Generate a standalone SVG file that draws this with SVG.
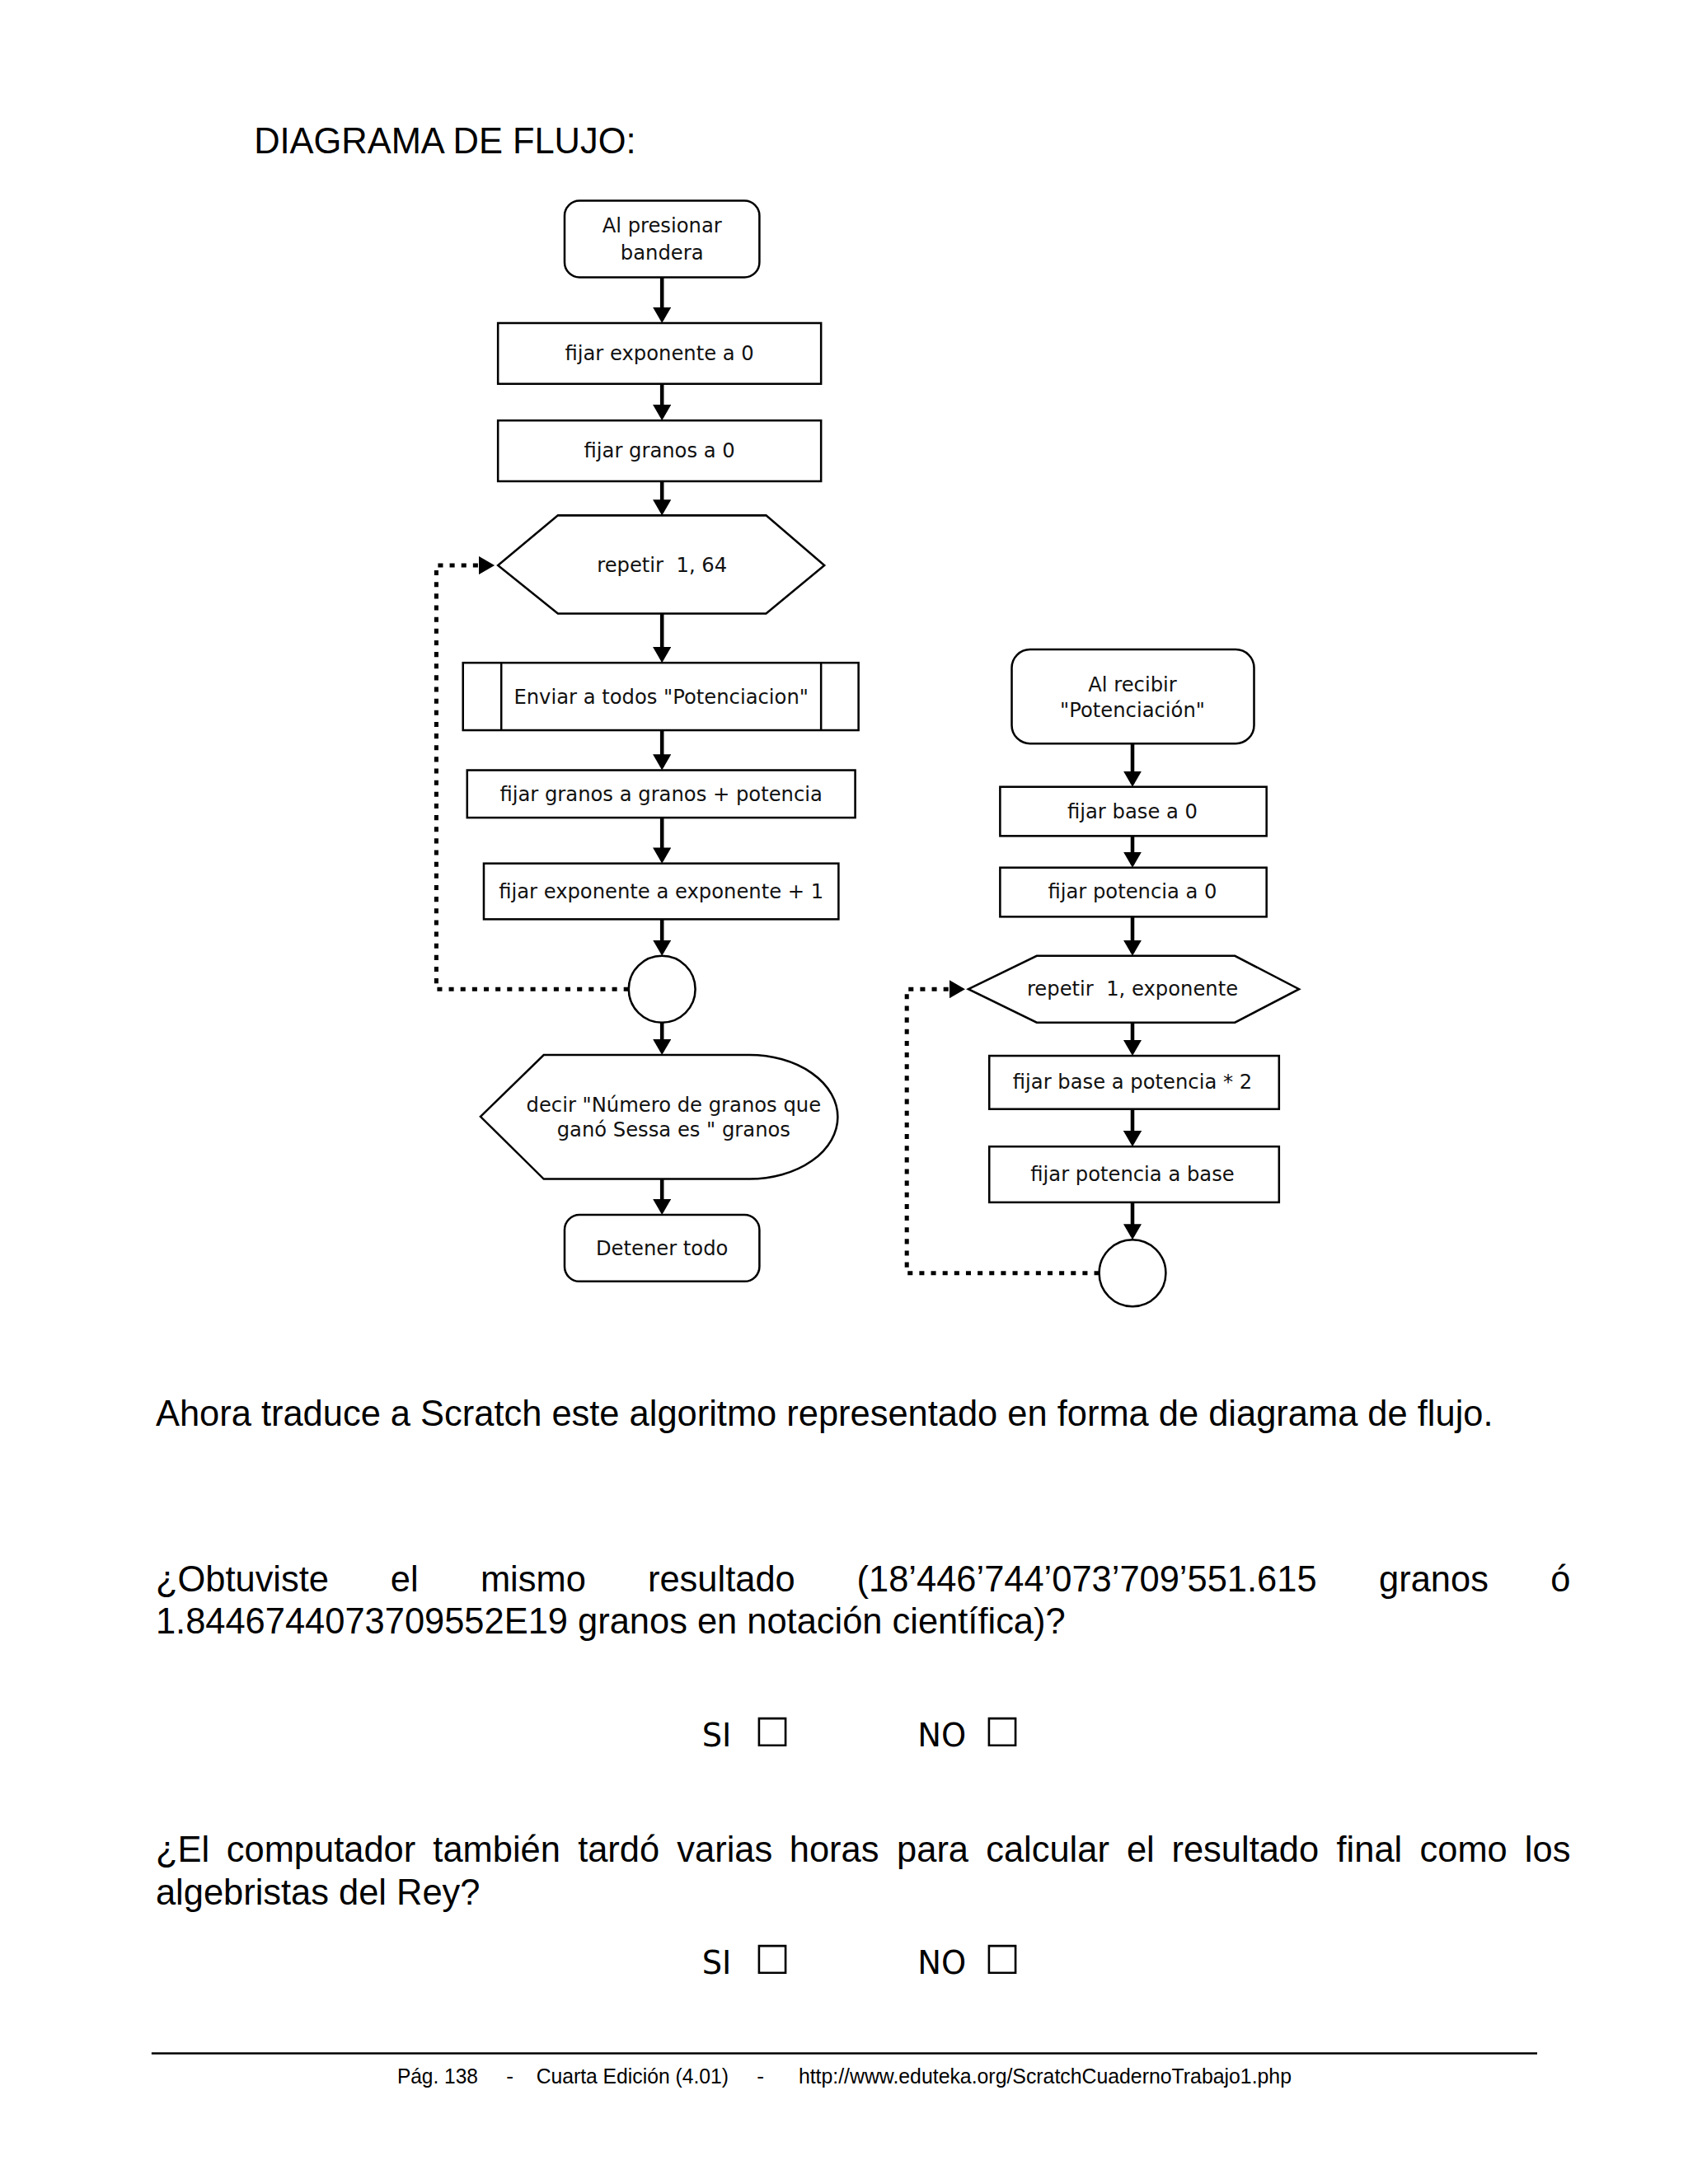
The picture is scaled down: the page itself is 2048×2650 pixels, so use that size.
<svg xmlns="http://www.w3.org/2000/svg" width="2048" height="2650" viewBox="0 0 2048 2650">
<style>
.n{fill:#fff;stroke:#000;stroke-width:2.5}
.t{font-family:"DejaVu Sans",Verdana,sans-serif;font-size:24px;text-anchor:middle;fill:#111}
.b{font-family:"Liberation Sans",Arial,sans-serif;font-size:43px;fill:#000}
.c{font-family:"DejaVu Sans",Verdana,sans-serif;font-size:38px;fill:#000}
.x{font-family:"DejaVu Sans",Verdana,sans-serif;font-size:48px;fill:#000}
.f{font-family:"Liberation Sans",Arial,sans-serif;font-size:26px;fill:#000}
.arr{stroke:#000;stroke-width:4.5;fill:none;marker-end:url(#ah)}
.dot{stroke:#000;stroke-width:5;fill:none;stroke-dasharray:6 8}
</style>
<defs>
<marker id="ah" markerWidth="22" markerHeight="22" refX="15" refY="11" orient="auto" markerUnits="userSpaceOnUse"><path d="M0,0 L19,11 L0,22 z" fill="#000"/></marker>
</defs>
<rect width="2048" height="2650" fill="#fff"/>
<g transform="scale(1.0103)">
<text class="b" x="305" y="184">DIAGRAMA DE FLUJO:</text>

<g id="connectors">
<path class="arr" d="M795,333 V384"/>
<path class="arr" d="M795,461 V501"/>
<path class="arr" d="M795,578 V615"/>
<path class="arr" d="M795,737 V792"/>
<path class="arr" d="M795,877 V921"/>
<path class="arr" d="M795,982 V1033"/>
<path class="arr" d="M795,1104 V1144"/>
<path class="arr" d="M795,1228 V1263"/>
<path class="arr" d="M795,1416 V1455"/>
<path class="dot" d="M755,1188 H524 V679 H590" marker-end="url(#ah)"/>
<path class="arr" d="M1360,893 V941"/>
<path class="arr" d="M1360,1004 V1038"/>
<path class="arr" d="M1360,1101 V1144"/>
<path class="arr" d="M1360,1228 V1264"/>
<path class="arr" d="M1360,1332 V1373"/>
<path class="arr" d="M1360,1444 V1485"/>
<path class="dot" d="M1320,1529 H1089 V1188 H1155" marker-end="url(#ah)"/>
</g>

<g id="n_start">
<rect class="n" x="678" y="241" width="234" height="92" rx="18"/>
<text class="t" x="795" y="279">Al presionar</text>
<text class="t" x="795" y="312">bandera</text>
</g>
<g id="n_exp0">
<rect class="n" x="598" y="388" width="388" height="73"/>
<text class="t" x="792" y="433">fijar exponente a 0</text>
</g>
<g id="n_gran0">
<rect class="n" x="598" y="505" width="388" height="73"/>
<text class="t" x="792" y="549">fijar granos a 0</text>
</g>
<g id="n_rep64">
<polygon class="n" points="598,679 670,619 920,619 990,679 920,737 670,737"/>
<text class="t" x="795" y="687" xml:space="preserve">repetir  1, 64</text>
</g>
<g id="n_enviar">
<rect class="n" x="556" y="796" width="475" height="81"/>
<line class="n" x1="602" y1="796" x2="602" y2="877"/>
<line class="n" x1="986" y1="796" x2="986" y2="877"/>
<text class="t" x="794" y="845">Enviar a todos "Potenciacion"</text>
</g>
<g id="n_granpot">
<rect class="n" x="561" y="925" width="466" height="57"/>
<text class="t" x="794" y="962">fijar granos a granos + potencia</text>
</g>
<g id="n_exp1">
<rect class="n" x="581" y="1037" width="426" height="67"/>
<text class="t" x="794" y="1079">fijar exponente a exponente + 1</text>
</g>
<g id="n_loop1">
<circle class="n" cx="795" cy="1188" r="40"/>
</g>
<g id="n_decir">
<path class="n" d="M577,1341 L653,1267 L900,1267 A106,74.5 0 0 1 900,1416 L653,1416 Z"/>
<text class="t" x="809" y="1335">decir "Número de granos que</text>
<text class="t" x="809" y="1365">ganó Sessa es " granos</text>
</g>
<g id="n_stop">
<rect class="n" x="678" y="1459" width="234" height="80" rx="18"/>
<text class="t" x="795" y="1507">Detener todo</text>
</g>

<g id="n_recibir">
<rect class="n" x="1215" y="780" width="291" height="113" rx="22"/>
<text class="t" x="1360" y="830">Al recibir</text>
<text class="t" x="1360" y="861">"Potenciación"</text>
</g>
<g id="n_base0">
<rect class="n" x="1201" y="945" width="320" height="59"/>
<text class="t" x="1360" y="983">fijar base a 0</text>
</g>
<g id="n_pot0">
<rect class="n" x="1201" y="1042" width="320" height="59"/>
<text class="t" x="1360" y="1079">fijar potencia a 0</text>
</g>
<g id="n_repexp">
<polygon class="n" points="1163,1188 1245,1148 1483,1148 1560,1188 1483,1228 1245,1228"/>
<text class="t" x="1360" y="1196" xml:space="preserve">repetir  1, exponente</text>
</g>
<g id="n_basepot">
<rect class="n" x="1188" y="1268" width="348" height="64"/>
<text class="t" x="1360" y="1308">fijar base a potencia * 2</text>
</g>
<g id="n_potbase">
<rect class="n" x="1188" y="1377" width="348" height="67"/>
<text class="t" x="1360" y="1418">fijar potencia a base</text>
</g>
<g id="n_loop2">
<circle class="n" cx="1360" cy="1529" r="40"/>
</g>

<text class="b" x="187" y="1712">Ahora traduce a Scratch este algoritmo representado en forma de diagrama de flujo.</text>
<text class="b" y="1911"><tspan x="187">¿Obtuviste</tspan><tspan x="469">el</tspan><tspan x="577">mismo</tspan><tspan x="778">resultado</tspan><tspan x="1029">(18’446’744’073’709’551.615</tspan><tspan x="1656">granos</tspan><tspan x="1862">ó</tspan></text>
<text class="b" x="187" y="1962">1.8446744073709552E19 granos en notación científica)?</text>
<text class="c" x="843" y="2097">SI</text>
<text class="x" x="906" y="2097">☐</text>
<text class="c" x="1102" y="2097">NO</text>
<text class="x" x="1182" y="2097">☐</text>
<text class="b" y="2236"><tspan x="187">¿El</tspan><tspan x="272">computador</tspan><tspan x="520">también</tspan><tspan x="694">tardó</tspan><tspan x="813">varias</tspan><tspan x="948">horas</tspan><tspan x="1077">para</tspan><tspan x="1184">calcular</tspan><tspan x="1353">el</tspan><tspan x="1407">resultado</tspan><tspan x="1605">final</tspan><tspan x="1705">como</tspan><tspan x="1831">los</tspan></text>
<text class="b" x="187" y="2287">algebristas del Rey?</text>
<text class="c" x="843" y="2371">SI</text>
<text class="x" x="906" y="2371">☐</text>
<text class="c" x="1102" y="2371">NO</text>
<text class="x" x="1182" y="2371">☐</text>

<line x1="182" y1="2466" x2="1846" y2="2466" stroke="#000" stroke-width="2.5"/>
<text class="f" y="2502"><tspan x="477" textLength="97" lengthAdjust="spacingAndGlyphs">Pág. 138</tspan><tspan x="608">-</tspan><tspan x="644" textLength="231" lengthAdjust="spacingAndGlyphs">Cuarta Edición (4.01)</tspan><tspan x="909">-</tspan><tspan x="959" textLength="592" lengthAdjust="spacingAndGlyphs">http://www.eduteka.org/ScratchCuadernoTrabajo1.php</tspan></text>
</g>
</svg>
